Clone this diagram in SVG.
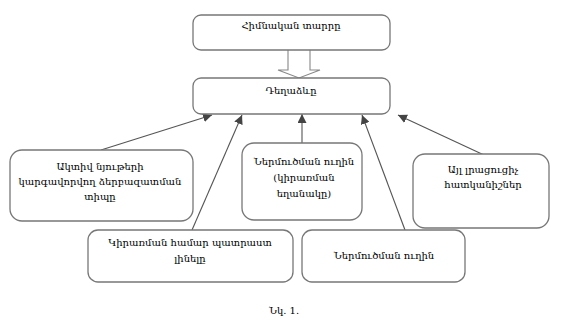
<svg xmlns="http://www.w3.org/2000/svg" width="566" height="326" viewBox="0 0 566 326">
<defs>
<style>
.box{fill:#fff;stroke:#777;stroke-width:1.3}
.t{font-family:"DejaVu Serif","Noto Sans",serif;font-size:10px;fill:#000;text-anchor:middle}
.c{stroke:#555;stroke-width:1.1;fill:none}
</style>
<marker id="ah" viewBox="0 0 10 10" refX="10" refY="5" markerWidth="9" markerHeight="9" markerUnits="userSpaceOnUse" orient="auto">
<path d="M0,0 L10,5 L0,10 z" fill="#444"/>
</marker>
</defs>
<rect width="566" height="326" fill="#fff"/>
<g id="connectors">
<path d="M288,50 V70 H278 L299,78 L320,70 H310 V50" fill="#fff" stroke="#888" stroke-width="1.1"/>
<line class="c" x1="101" y1="150" x2="212" y2="115" marker-end="url(#ah)"/>
<line class="c" x1="192" y1="230" x2="242" y2="115" marker-end="url(#ah)"/>
<line class="c" x1="302" y1="143" x2="302" y2="114" marker-end="url(#ah)"/>
<line class="c" x1="405" y1="230" x2="362" y2="115" marker-end="url(#ah)"/>
<line class="c" x1="484" y1="155" x2="398" y2="115" marker-end="url(#ah)"/>
</g>
<g id="n_main">
<rect class="box" x="193" y="15" width="197" height="35" rx="8"/>
<text class="t" x="291" y="29">Հիմնական տարրը</text>
</g>
<g id="n_form">
<rect class="box" x="193" y="78" width="197" height="36" rx="8"/>
<text class="t" x="291" y="94">Դեղաձևը</text>
</g>
<g id="n_active">
<rect class="box" x="10" y="150" width="183" height="71" rx="12"/>
<text class="t" x="100" y="170">Ակտիվ նյութերի</text>
<text class="t" x="100" y="185">կարգավորվող ձերբազատման</text>
<text class="t" x="100" y="200">տիպը</text>
</g>
<g id="n_route2">
<rect class="box" x="242" y="143" width="120" height="77" rx="12"/>
<text class="t" x="304" y="165">Ներմուծման ուղին</text>
<text class="t" x="304" y="181">(կիրառման</text>
<text class="t" x="304" y="197">եղանակը)</text>
</g>
<g id="n_other">
<rect class="box" x="413" y="154" width="136" height="74" rx="12"/>
<text class="t" x="483" y="173">Այլ լրացուցիչ</text>
<text class="t" x="483" y="188">հատկանիշներ</text>
</g>
<g id="n_ready">
<rect class="box" x="88" y="230" width="205" height="52" rx="10"/>
<text class="t" x="190" y="246">Կիրառման համար պատրաստ</text>
<text class="t" x="190" y="262">լինելը</text>
</g>
<g id="n_route">
<rect class="box" x="302" y="230" width="163" height="52" rx="10"/>
<text class="t" x="384" y="259">Ներմուծման ուղին</text>
</g>
<text class="t" x="284" y="314">Նկ. 1.</text>
</svg>
